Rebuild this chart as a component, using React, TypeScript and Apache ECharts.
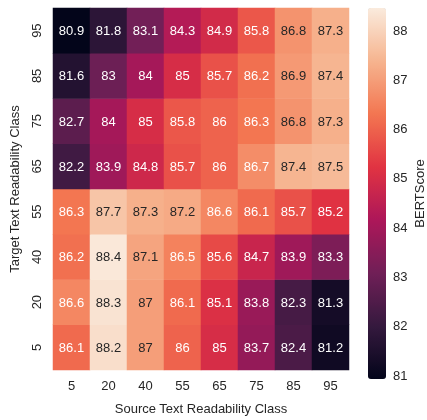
import React, { useEffect, useRef } from "react";
import * as echarts from "echarts";

const sourceClasses = ["5", "20", "40", "55", "65", "75", "85", "95"];
// target classes listed bottom to top
const targetClasses = ["5", "20", "40", "55", "65", "75", "85", "95"];

// rows keyed by target class, values in source-class order
const row5 = [86.1, 88.2, 87, 86, 85, 83.7, 82.4, 81.2];
const row20 = [86.6, 88.3, 87, 86.1, 85.1, 83.8, 82.3, 81.3];
const row40 = [86.2, 88.4, 87.1, 86.5, 85.6, 84.7, 83.9, 83.3];
const row55 = [86.3, 87.7, 87.3, 87.2, 86.6, 86.1, 85.7, 85.2];
const row65 = [82.2, 83.9, 84.8, 85.7, 86, 86.7, 87.4, 87.5];
const row75 = [82.7, 84, 85, 85.8, 86, 86.3, 86.8, 87.3];
const row85 = [81.6, 83, 84, 85, 85.7, 86.2, 86.9, 87.4];
const row95 = [80.9, 81.8, 83.1, 84.3, 84.9, 85.8, 86.8, 87.3];
const rows = [row5, row20, row40, row55, row65, row75, row85, row95];

const colorbarTicks = [81, 82, 83, 84, 85, 86, 87, 88];
const vmin = 80.92;
const vmax = 88.45;

const rocket = [
  "#03051a",
  "#35193e",
  "#701f57",
  "#ad1759",
  "#e13342",
  "#f37651",
  "#f6b48f",
  "#faebdd",
];

const FONT = "Liberation Sans, Arial, sans-serif";
const TXT = "#262626";

export default function App() {
  const ref = useRef<HTMLDivElement>(null);
  useEffect(() => {
    if (!ref.current) return;
    const chart = echarts.init(ref.current, undefined, { renderer: "svg" });
    const data: any[] = [];
    rows.forEach((r, yi) => {
      r.forEach((v, xi) => {
        data.push({
          value: [xi, yi, v],
          label: { color: v >= 86.75 ? TXT : "#ffffff" },
        });
      });
    });
    chart.setOption({
      animation: false,
      textStyle: { fontFamily: FONT },
      grid: [
        { left: 50, top: 8, width: 299, height: 371 },
        { left: 368, top: 8, width: 18, height: 371 },
      ],
      xAxis: [
        {
          type: "category",
          gridIndex: 0,
          data: sourceClasses,
          axisLine: { show: false },
          axisTick: { show: false },
          splitLine: { show: false },
          axisLabel: { fontSize: 13, color: TXT, margin: 9, fontFamily: FONT },
          name: "Source Text Readability Class",
          nameLocation: "middle",
          nameGap: 32,
          nameTextStyle: { fontSize: 13, color: TXT, fontFamily: FONT },
        },
        {
          type: "value",
          gridIndex: 1,
          show: false,
        },
      ],
      yAxis: [
        {
          type: "category",
          gridIndex: 0,
          data: targetClasses,
          axisLine: { show: false },
          axisTick: { show: false },
          splitLine: { show: false },
          axisLabel: {
            fontSize: 13,
            color: TXT,
            margin: 10,
            rotate: 90,
            fontFamily: FONT,
          },
          name: "Target Text Readability Class",
          nameLocation: "middle",
          nameGap: 32,
          nameTextStyle: { fontSize: 13, color: TXT, fontFamily: FONT },
        },
        {
          type: "value",
          gridIndex: 1,
          position: "right",
          min: vmin,
          max: vmax,
          axisLine: { show: false },
          splitLine: { show: false },
          axisTick: {
            show: true,
            length: 5,
            lineStyle: { color: TXT },
            customValues: colorbarTicks,
          },
          axisLabel: {
            fontSize: 13,
            color: TXT,
            margin: 10,
            fontFamily: FONT,
            customValues: colorbarTicks,
          },
          name: "BERTScore",
          nameLocation: "middle",
          nameRotate: 90,
          nameGap: 30,
          nameTextStyle: { fontSize: 13, color: TXT, fontFamily: FONT },
        },
      ],
      visualMap: {
        type: "continuous",
        seriesIndex: 0,
        min: vmin,
        max: vmax,
        calculable: false,
        realtime: false,
        hoverLink: false,
        text: null,
        showLabel: false,
        left: 368,
        top: 8,
        padding: 0,
        itemWidth: 18,
        itemHeight: 371,
        orient: "vertical",
        inRange: { color: rocket },
      },
      series: [
        {
          type: "heatmap",
          xAxisIndex: 0,
          yAxisIndex: 0,
          data,
          label: {
            show: true,
            fontSize: 13,
            fontFamily: FONT,
            formatter: (p: any) => String(p.value[2]),
          },
          emphasis: { disabled: true },
        },
      ],
    });
    return () => chart.dispose();
  }, []);
  return (
    <div
      ref={ref}
      style={{ position: "fixed", left: 0, top: 0, width: 427, height: 420 }}
    />
  );
}
